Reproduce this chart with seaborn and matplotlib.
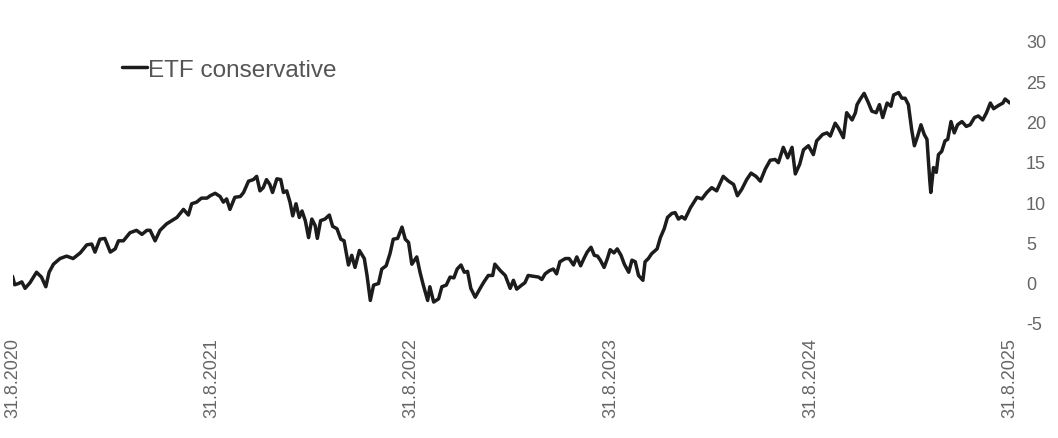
import pandas as pd
import matplotlib
matplotlib.use("Agg")
import matplotlib.pyplot as plt
import seaborn as sns

# Days since 31.8.2020 and the performance (%)
days = [0, 4, 11, 17, 23, 32, 44, 53, 61, 67, 75, 87, 99, 111, 124, 136, 145, 151, 160, 169,
        179, 188, 194, 203, 215, 227, 237, 246, 252, 261, 270, 282, 294, 301, 313, 322, 328, 337,
        346, 356, 362, 371, 380, 386, 392, 398, 407, 417, 423, 432, 441, 447, 453, 459, 465, 471,
        476, 484, 491, 496, 502, 508, 513, 519, 525, 530, 536, 542, 548, 554, 558, 564, 572, 580,
        586, 594, 601, 607, 615, 621, 627, 635, 644, 649, 655, 661, 670, 676, 684, 691, 697, 705,
        713, 719, 725, 731, 740, 746, 752, 760, 764, 771, 780, 786, 794, 801, 808, 814, 821, 827,
        833, 839, 847, 856, 863, 871, 879, 883, 893, 902, 911, 917, 923, 932, 938, 944, 954, 963,
        969, 975, 983, 990, 996, 1002, 1012, 1019, 1027, 1033, 1040, 1046, 1052, 1059, 1065, 1071,
        1076, 1083, 1089, 1094, 1101, 1107, 1114, 1120, 1128, 1134, 1140, 1146, 1154, 1158, 1164,
        1170, 1180, 1186, 1193, 1199, 1207, 1213, 1219, 1225, 1231, 1241, 1253, 1262, 1271, 1280,
        1289, 1301, 1311, 1320, 1327, 1335, 1344, 1352, 1361, 1369, 1378, 1387, 1396, 1402, 1411,
        1419, 1427, 1433, 1441, 1448, 1457, 1466, 1472, 1483, 1491, 1497, 1506, 1512, 1521, 1527,
        1537, 1543, 1546, 1552, 1559, 1567, 1573, 1581, 1587, 1593, 1601, 1608, 1613, 1622, 1628,
        1634, 1640, 1646, 1651, 1657, 1663, 1669, 1674, 1679, 1681, 1686, 1691, 1695, 1701, 1707,
        1712, 1718, 1724, 1730, 1738, 1746, 1753, 1761, 1768, 1776, 1783, 1790, 1796, 1805, 1813,
        1817, 1826]
values = [0.8, -0.25, -0.1, 0.1, -0.7, 0.0, 1.3, 0.7, -0.5, 1.3, 2.3, 3.0, 3.3, 3.0, 3.7, 4.7,
          4.8, 3.8, 5.4, 5.5, 3.8, 4.2, 5.2, 5.2, 6.2, 6.5, 6.0, 6.5, 6.5, 5.2, 6.5, 7.3, 7.8, 8.1,
          9.1, 8.4, 9.8, 10.0, 10.5, 10.5, 10.8, 11.1, 10.7, 10.0, 10.4, 9.1, 10.6, 10.7, 11.2,
          12.6, 12.8, 13.2, 11.4, 11.8, 12.8, 12.2, 11.2, 12.9, 12.8, 11.2, 11.4, 10.0, 8.3, 9.8,
          8.1, 8.9, 7.7, 5.6, 7.9, 7.1, 5.5, 7.7, 7.9, 8.4, 7.0, 6.7, 5.4, 5.2, 2.2, 3.4, 1.9, 4.0,
          3.0, 0.9, -2.2, -0.3, -0.1, 1.7, 2.1, 3.6, 5.4, 5.5, 6.9, 5.4, 5.0, 2.3, 3.2, 1.3, -0.3,
          -2.2, -0.5, -2.4, -2.0, -0.5, -0.3, 0.7, 0.6, 1.7, 2.2, 1.3, 1.4, -0.7, -1.8, -0.7, 0.1,
          0.9, 0.9, 2.3, 1.5, 0.9, -0.7, 0.3, -0.8, -0.3, 0.0, 0.9, 0.8, 0.7, 0.4, 1.1, 1.5, 1.7,
          1.1, 2.6, 3.0, 3.0, 2.2, 3.2, 2.1, 3.0, 3.8, 4.4, 3.4, 3.3, 2.8, 1.9, 3.0, 4.1, 3.7, 4.2,
          3.4, 2.3, 1.3, 2.8, 2.6, 0.9, 0.3, 2.6, 3.0, 3.6, 4.2, 5.6, 6.7, 8.1, 8.6, 8.7, 7.9, 8.2,
          7.9, 9.3, 10.6, 10.4, 11.2, 11.8, 11.4, 13.2, 12.6, 12.2, 10.8, 11.6, 12.8, 13.6, 13.2,
          12.6, 14.1, 15.2, 15.3, 14.9, 16.8, 15.5, 16.8, 13.5, 14.7, 16.5, 17.0, 15.9, 17.6, 18.4,
          18.6, 18.2, 19.8, 19.2, 18.0, 21.1, 20.2, 21.1, 22.1, 22.8, 23.5, 22.3, 21.3, 21.1, 22.1,
          20.5, 22.3, 21.9, 23.3, 23.6, 22.9, 22.9, 22.1, 19.0, 17.0, 18.2, 19.6, 18.4, 17.8, 12.8,
          11.2, 14.3, 13.7, 15.9, 16.3, 17.6, 17.8, 20.0, 18.6, 19.6, 20.0, 19.4, 19.6, 20.5, 20.7,
          20.2, 21.1, 22.3, 21.6, 22.0, 22.3, 22.8, 22.3]

tick_dates = ["2020-08-31", "2021-08-31", "2022-08-31", "2023-08-31", "2024-08-31", "2025-08-31"]
tick_labels = ["31.8.2020", "31.8.2021", "31.8.2022", "31.8.2023", "31.8.2024", "31.8.2025"]
y_ticks = [-5, 0, 5, 10, 15, 20, 25, 30]

start = pd.Timestamp("2020-08-31")
df = pd.DataFrame({"date": start + pd.to_timedelta(days, unit="D"), "value": values})

sns.set_style("white")
plt.rcParams["font.family"] = ["Liberation Sans", "DejaVu Sans"]
plt.rcParams["axes.unicode_minus"] = False

fig = plt.figure(figsize=(10.58, 4.39), dpi=100)
ax = fig.add_axes([12.5 / 1058, 1 - 324 / 439, 997.5 / 1058, 282 / 439])

sns.lineplot(data=df, x="date", y="value", ax=ax, color="#1c1c1c", linewidth=2.5,
             label="ETF conservative")

ax.set_xlim(pd.Timestamp(tick_dates[0]), pd.Timestamp(tick_dates[-1]))
ax.set_ylim(-5, 30)
ax.set_xticks(pd.to_datetime(tick_dates))
ax.set_xticklabels(tick_labels, rotation=90)
ax.set_yticks(y_ticks)
ax.yaxis.tick_right()
ax.tick_params(axis="y", length=0, pad=11.5, labelsize=13, labelcolor="#666666")
ax.tick_params(axis="x", length=0, pad=10, labelsize=13, labelcolor="#666666")
ax.set_xlabel("")
ax.set_ylabel("")
sns.despine(ax=ax, left=True, bottom=True, right=True, top=True)
ax.grid(False)

ax.legend(loc="upper left", bbox_to_anchor=(0.11, 0.937), frameon=False, fontsize=17.5,
          handlelength=1.0, handletextpad=0.05, borderpad=0, borderaxespad=0,
          labelcolor="#555555")

fig.savefig("out.png", dpi=100)
